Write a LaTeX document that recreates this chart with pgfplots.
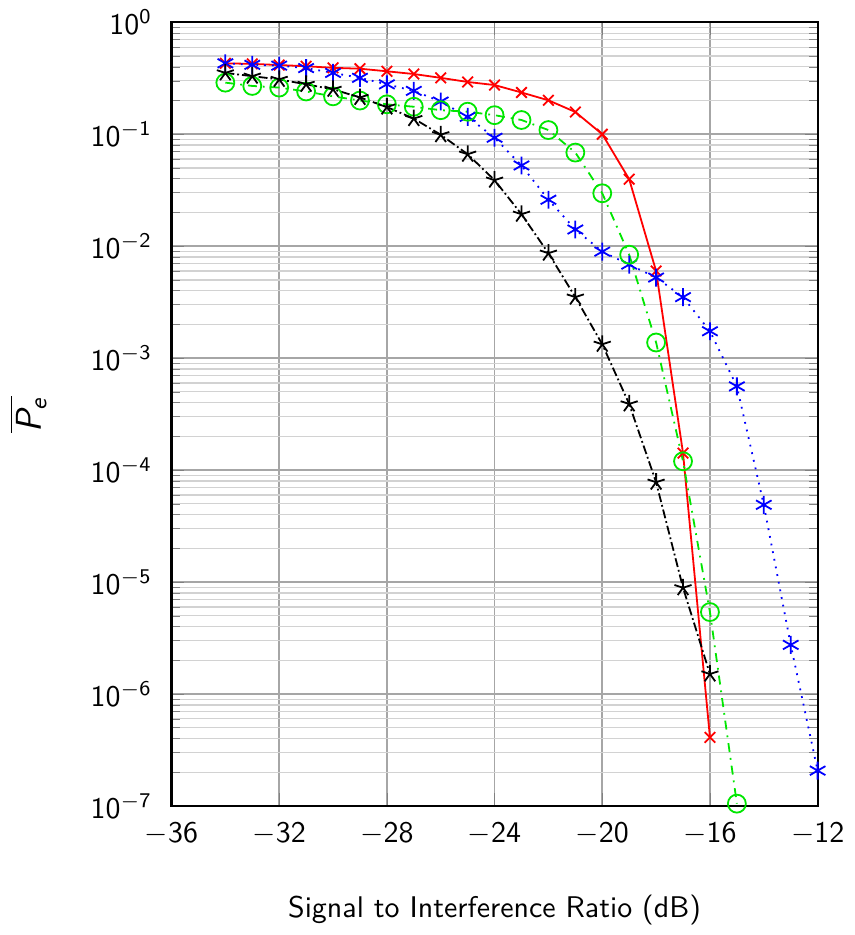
\documentclass[border=0pt]{standalone}
\usepackage{pgfplots}
\pgfplotsset{compat=1.18}
% sans digits and letters in math, as in beamer
\DeclareSymbolFont{sfdigits}{OT1}{cmss}{m}{n}
\DeclareSymbolFont{sfletters}{OT1}{cmss}{m}{sl}
\DeclareMathSymbol{0}{\mathalpha}{sfdigits}{`0}
\DeclareMathSymbol{1}{\mathalpha}{sfdigits}{`1}
\DeclareMathSymbol{2}{\mathalpha}{sfdigits}{`2}
\DeclareMathSymbol{3}{\mathalpha}{sfdigits}{`3}
\DeclareMathSymbol{4}{\mathalpha}{sfdigits}{`4}
\DeclareMathSymbol{5}{\mathalpha}{sfdigits}{`5}
\DeclareMathSymbol{6}{\mathalpha}{sfdigits}{`6}
\DeclareMathSymbol{7}{\mathalpha}{sfdigits}{`7}
\DeclareMathSymbol{8}{\mathalpha}{sfdigits}{`8}
\DeclareMathSymbol{9}{\mathalpha}{sfdigits}{`9}
\DeclareMathSymbol{P}{\mathalpha}{sfletters}{`P}
\DeclareMathSymbol{e}{\mathalpha}{sfletters}{`e}
\definecolor{lgreen}{RGB}{0,230,0}

\begin{document}
\sffamily
\begin{tikzpicture}
\begin{semilogyaxis}[
  width=216pt, height=262pt, scale only axis,
  xmin=-36, xmax=-12, ymin=1e-7, ymax=1,
  xtick={-36,-32,...,-12},
  ytick={1e-7,1e-6,1e-5,1e-4,1e-3,1e-2,1e-1,1},
  grid=both,
  major grid style={gray!70, line width=0.6pt},
  minor grid style={gray!35, line width=0.4pt},
  axis line style={line width=0.7pt},
  xlabel={Signal to Interference Ratio (dB)},
  ylabel={$\overline{P_e}$},
  ylabel style={font=\large, yshift=8pt},
  xlabel style={yshift=-10pt},
  yticklabel style={xshift=-3pt},
  xticklabel style={yshift=-2pt},
  tick align=inside,
]
\addplot[red, semithick, mark=x, mark size=2.5pt] coordinates {
(-34,0.43)(-33,0.425)(-32,0.415)(-31,0.405)(-30,0.392)(-29,0.385)
(-28,0.365)(-27,0.345)(-26,0.319)(-25,0.293)(-24,0.275)(-23,0.236)
(-22,0.201)(-21,0.158)(-20,0.1)(-19,0.0397)(-18,0.006)(-17,1.42e-4)
(-16,4.1e-7)};
\addplot[blue, semithick, dotted, mark=asterisk, mark size=3pt, mark options={solid}] coordinates {
(-34,0.43)(-33,0.417)(-32,0.41)(-31,0.39)(-30,0.353)(-29,0.319)
(-28,0.279)(-27,0.244)(-26,0.196)(-25,0.143)(-24,0.093)(-23,0.0526)
(-22,0.026)(-21,0.0141)(-20,0.00895)(-19,0.00685)(-18,0.00525)
(-17,0.00351)(-16,0.00174)(-15,5.6e-4)(-14,4.9e-5)(-13,2.75e-6)(-12,2.07e-7)};
\addplot[lgreen, semithick, dashdotted, mark=o, mark size=3pt, mark options={solid}] coordinates {
(-34,0.289)(-33,0.27)(-32,0.261)(-31,0.241)(-30,0.218)(-29,0.2)
(-28,0.185)(-27,0.176)(-26,0.164)(-25,0.159)(-24,0.148)(-23,0.134)
(-22,0.109)(-21,0.0686)(-20,0.0297)(-19,0.0084)(-18,0.00138)
(-17,1.2e-4)(-16,5.4e-6)(-15,1.05e-7)};
\addplot[black, semithick, densely dashdotted, mark=star, mark size=3pt, mark options={solid}] coordinates {
(-34,0.353)(-33,0.33)(-32,0.309)(-31,0.279)(-30,0.252)(-29,0.213)
(-28,0.175)(-27,0.138)(-26,0.099)(-25,0.0663)(-24,0.0389)(-23,0.0193)
(-22,0.00866)(-21,0.00351)(-20,0.00133)(-19,3.9e-4)(-18,7.8e-5)
(-17,8.9e-6)(-16,1.51e-6)};
\end{semilogyaxis}
\end{tikzpicture}
\end{document}
